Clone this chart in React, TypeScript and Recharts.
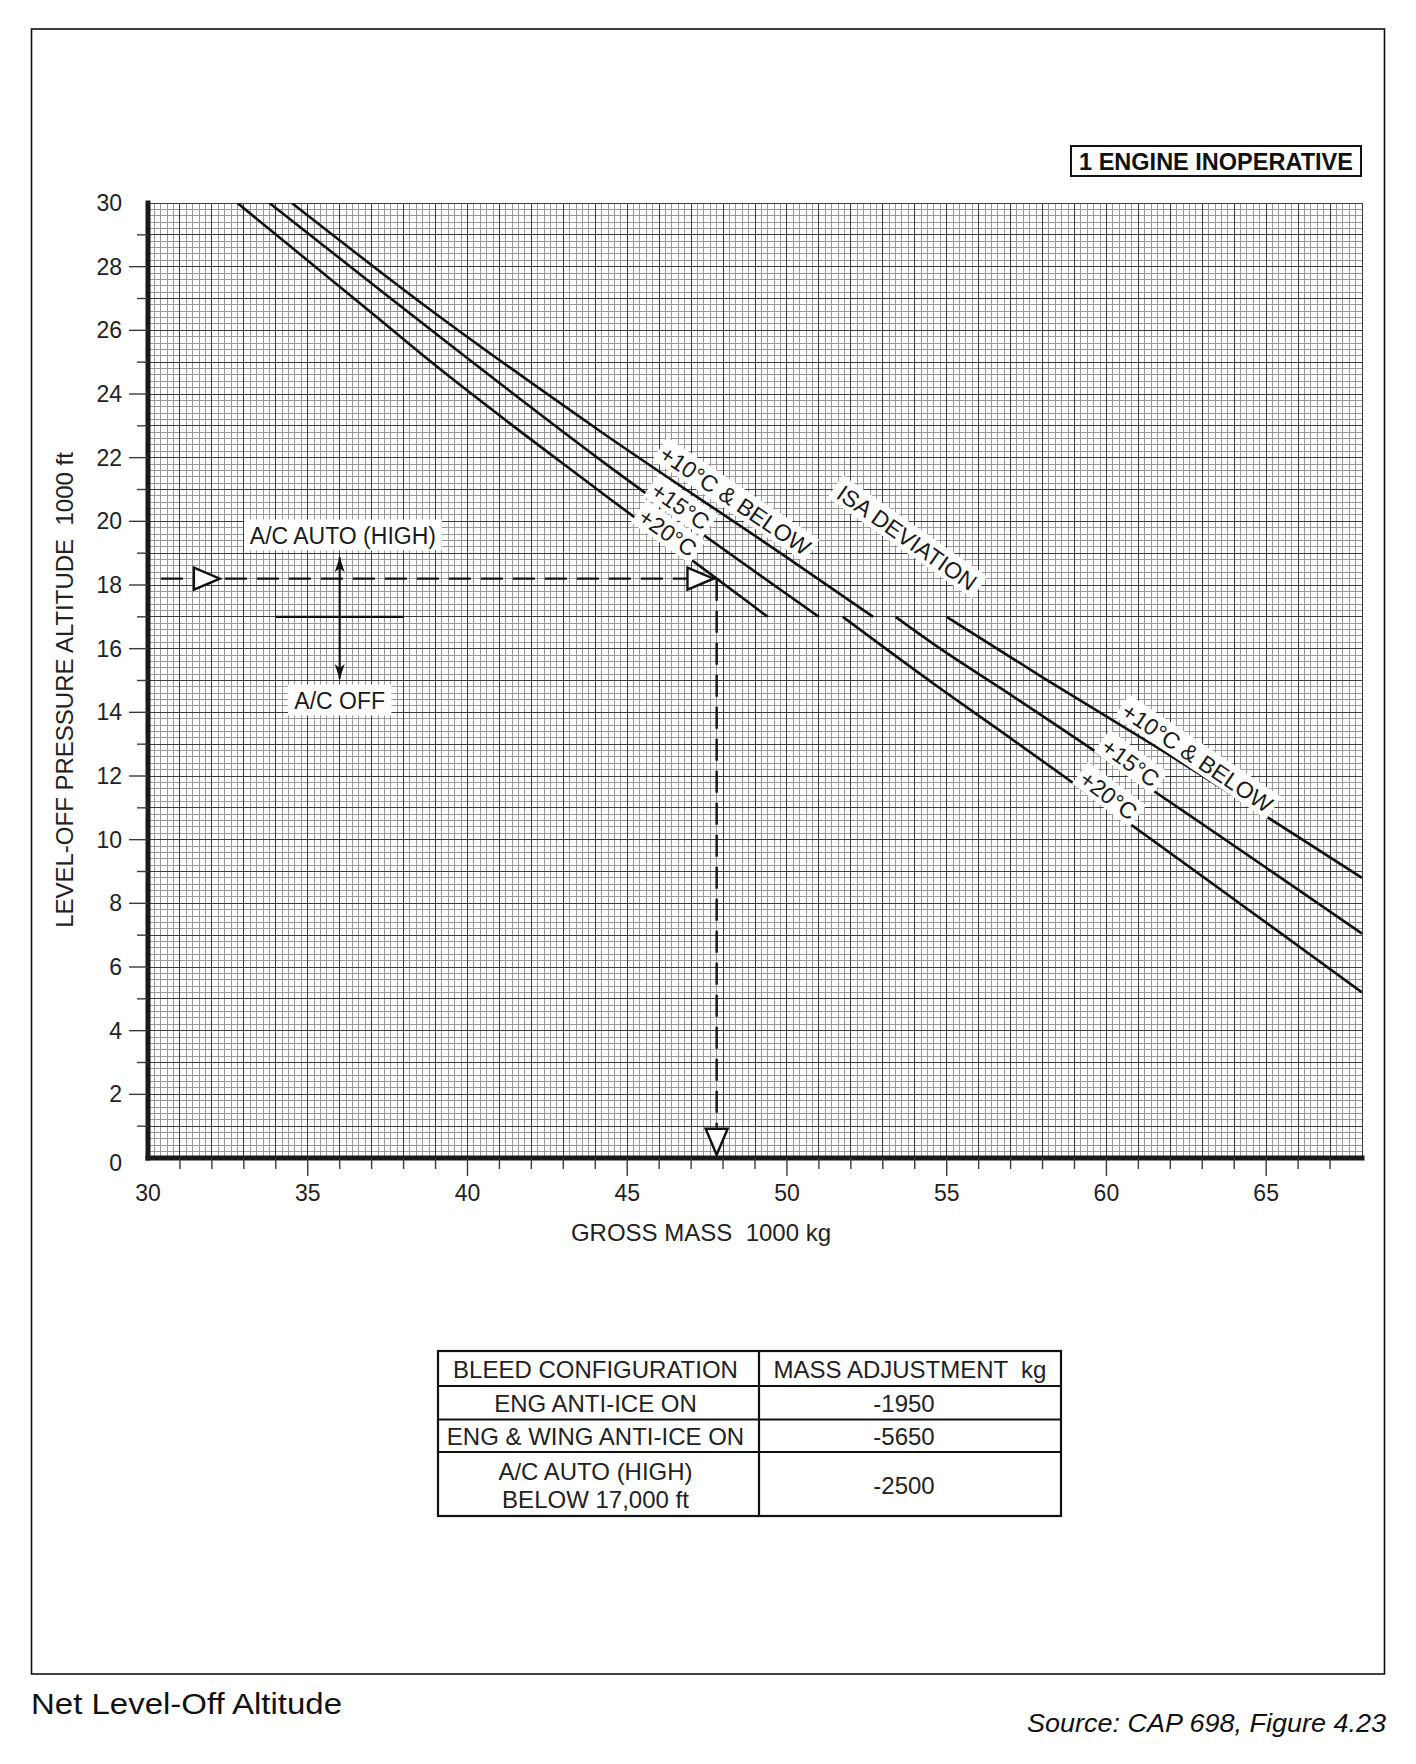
import React from 'react';
import { LineChart, Line, XAxis, YAxis, ReferenceLine, ReferenceDot } from 'recharts';

const FONT = '"Liberation Sans", Arial, Helvetica, sans-serif';

// ---- data (gross mass in 1000 kg, level-off pressure altitude in 1000 ft) ----
const upper20 = [
  { x: 32.8, y: 30 }, { x: 37.3, y: 26.3 }, { x: 38.5, y: 25.3 }, { x: 44.2, y: 20.9 }, { x: 47.8, y: 18.2 }, { x: 49.4, y: 17 },
];
const upper15 = [
  { x: 33.8, y: 30 }, { x: 37.6, y: 27.0 }, { x: 44.2, y: 21.9 }, { x: 49.8, y: 17.85 }, { x: 51.0, y: 17 },
];
const upper10 = [
  { x: 34.5, y: 30 }, { x: 38.5, y: 26.9 }, { x: 44.2, y: 22.8 }, { x: 49.8, y: 19.0 }, { x: 52.7, y: 17 },
];
const lower20 = [
  { x: 51.75, y: 17 }, { x: 54.8, y: 14.75 }, { x: 56.7, y: 13.4 }, { x: 68, y: 5.2 },
];
const lower15 = [
  { x: 53.4, y: 17 }, { x: 54.8, y: 16.0 }, { x: 56.7, y: 14.75 }, { x: 68, y: 7.05 },
];
const lower10 = [
  { x: 55.0, y: 17 }, { x: 58.0, y: 15.1 }, { x: 61.5, y: 12.95 }, { x: 68, y: 8.8 },
];

// example path
const exampleAltitude = 18.2;
const exampleMass = 47.8;
const dashHorizontal = [{ x: 30.4, y: exampleAltitude }, { x: 47.75, y: exampleAltitude }];
const dashVertical = [{ x: exampleMass, y: exampleAltitude }, { x: exampleMass, y: 0.95 }];

// A/C symbol
const acBar = [{ x: 34, y: 17 }, { x: 38, y: 17 }];
const acArrow = [{ x: 36, y: 15.05 }, { x: 36, y: 18.87 }];

// axes
const X_DOMAIN: [number, number] = [30, 68];
const Y_DOMAIN: [number, number] = [0, 30];
const xTickLabels = [30, 35, 40, 45, 50, 55, 60, 65];
const yTickLabels = [0, 2, 4, 6, 8, 10, 12, 14, 16, 18, 20, 22, 24, 26, 28, 30];
const xTicks = Array.from({ length: 38 }, (_, i) => 30 + i);
const yTicks = Array.from({ length: 31 }, (_, i) => i);
const GRID_STEP = 0.2;
const gridX = Array.from({ length: Math.round((X_DOMAIN[1] - X_DOMAIN[0]) / GRID_STEP) + 1 }, (_, i) => Math.round((X_DOMAIN[0] + i * GRID_STEP) * 10) / 10);
const gridY = Array.from({ length: Math.round((Y_DOMAIN[1] - Y_DOMAIN[0]) / GRID_STEP) + 1 }, (_, i) => Math.round((Y_DOMAIN[0] + i * GRID_STEP) * 10) / 10);

// labels on curves
const curveLabels = [
  { text: '+10°C & BELOW', x: 48.4, y: 20.68, angle: 34 },
  { text: '+15°C', x: 46.68, y: 20.5, angle: 35 },
  { text: '+20°C', x: 46.28, y: 19.67, angle: 35 },
  { text: 'ISA DEVIATION', x: 53.77, y: 19.51, angle: 35 },
  { text: '+10°C & BELOW', x: 62.86, y: 12.6, angle: 34 },
  { text: '+15°C', x: 60.77, y: 12.44, angle: 36 },
  { text: '+20°C', x: 60.08, y: 11.42, angle: 37 },
];
const acLabels = [
  { text: 'A/C AUTO (HIGH)', x: 36.1, y: 19.57 },
  { text: 'A/C OFF', x: 36.0, y: 14.39 },
];

// table
const tableHeader = ['BLEED CONFIGURATION', 'MASS ADJUSTMENT  kg'];
const tableRows = [
  { config: ['ENG ANTI-ICE ON'], adj: '-1950' },
  { config: ['ENG & WING ANTI-ICE ON'], adj: '-5650' },
  { config: ['A/C AUTO (HIGH)', 'BELOW 17,000 ft'], adj: '-2500' },
];

// ---- layout ----
const PAGE_W = 1416;
const PAGE_H = 1764;
const PLOT_LEFT = 148;
const PLOT_TOP = 203;
const PLOT_RIGHT = 1362;
const PLOT_BOTTOM = 1158;
const CHART_W = 1416;
const CHART_H = 1300;
const Y_AXIS_W = 60;
const X_AXIS_H = 60;

const CW: Record<string, number> = { ' ': 0.278, '+': 0.584, '°': 0.4, '&': 0.667, '/': 0.278, '(': 0.333, ')': 0.333, '-': 0.333, I: 0.278, M: 0.833, W: 0.944, L: 0.556, F: 0.611, T: 0.611 };
function textWidth(s: string, fs: number) {
  let w = 0;
  for (const c of s) {
    if (CW[c] != null) w += CW[c];
    else if (/[0-9]/.test(c)) w += 0.556;
    else w += 0.7;
  }
  return w * fs;
}

const YTick = (props: any) => {
  const { x, y, payload } = props;
  const v = payload.value as number;
  const major = yTickLabels.includes(v);
  const showLine = v !== 0 && v !== 30;
  return (
    <g>
      {showLine && <line x1={x - (major ? 19 : 11)} x2={x} y1={y} y2={y} stroke="#3a3a3a" strokeWidth={1.4} />}
      {major && (
        <text x={x - 26} y={y + (v === 0 ? 5 : 0)} textAnchor="end" dominantBaseline="central" fontSize={23} fontFamily={FONT} fill="#222">
          {v}
        </text>
      )}
    </g>
  );
};

const XTick = (props: any) => {
  const { x, y, payload } = props;
  const v = payload.value as number;
  const major = xTickLabels.includes(v);
  const showLine = v !== 30;
  return (
    <g>
      {showLine && <line x1={x} x2={x} y1={y} y2={y + (major ? 18 : 11)} stroke="#3a3a3a" strokeWidth={1.4} />}
      {major && (
        <text x={x} y={y + 35} textAnchor="middle" dominantBaseline="central" fontSize={23} fontFamily={FONT} fill="#222">
          {v}
        </text>
      )}
    </g>
  );
};

const rotLabel = (text: string, angle: number, fs = 23) => (p: any) => {
  const w = textWidth(text, fs) + 8;
  const h = fs + 4;
  return (
    <g transform={`translate(${p.cx},${p.cy}) rotate(${angle})`}>
      <rect x={-w / 2} y={-h / 2} width={w} height={h} fill="#fff" />
      <text x={0} y={1} textAnchor="middle" dominantBaseline="central" fontSize={fs} fontFamily={FONT} fill="#1a1a1a">
        {text}
      </text>
    </g>
  );
};

const flatLabel = (text: string, fs = 23) => (p: any) => {
  const w = textWidth(text, fs) + 14;
  const h = fs + 8;
  return (
    <g>
      <rect x={p.cx - w / 2} y={p.cy - h / 2} width={w} height={h} fill="#fff" />
      <text x={p.cx} y={p.cy + 1} textAnchor="middle" dominantBaseline="central" fontSize={fs} fontFamily={FONT} fill="#1a1a1a">
        {text}
      </text>
    </g>
  );
};

const openArrowRight = (p: any) => (
  <polygon points={`${p.cx - 26},${p.cy - 11} ${p.cx},${p.cy} ${p.cx - 26},${p.cy + 11}`} fill="#fff" stroke="#111" strokeWidth={2.4} strokeLinejoin="miter" />
);
const openArrowDown = (p: any) => (
  <polygon points={`${p.cx - 11},${p.cy - 26} ${p.cx + 11},${p.cy - 26} ${p.cx},${p.cy}`} fill="#fff" stroke="#111" strokeWidth={2.4} strokeLinejoin="miter" />
);
const solidArrowUp = (p: any) => (
  <polygon points={`${p.cx},${p.cy} ${p.cx + 5},${p.cy + 15} ${p.cx},${p.cy + 11} ${p.cx - 5},${p.cy + 15}`} fill="#111" />
);
const solidArrowDown = (p: any) => (
  <polygon points={`${p.cx},${p.cy} ${p.cx + 5},${p.cy - 15} ${p.cx},${p.cy - 11} ${p.cx - 5},${p.cy - 15}`} fill="#111" />
);

const curveProps = { dataKey: 'y', type: 'monotone' as const, stroke: '#111', strokeWidth: 2.6, dot: false, activeDot: false, isAnimationActive: false };

function Background() {
  const tl = 438, tr = 1061, tc = 759;
  const rowsY = [1351, 1386, 1419.5, 1452, 1516];
  const col1 = (tl + tc) / 2;
  const col2 = (tc + tr) / 2;
  const tfs = 24;
  return (
    <svg width={PAGE_W} height={PAGE_H} style={{ position: 'absolute', left: 0, top: 0 }}>
      <rect x={0} y={0} width={PAGE_W} height={PAGE_H} fill="#fff" />
      <rect x={31.5} y={29} width={1353} height={1645} fill="none" stroke="#111" strokeWidth={1.6} />
      {/* engine box */}
      <rect x={1071} y={146} width={290} height={30} fill="#fff" stroke="#111" strokeWidth={2} />
      <text x={1216} y={161.5} textAnchor="middle" dominantBaseline="central" fontSize={23.5} fontWeight="bold" fontFamily={FONT} fill="#111">
        1 ENGINE INOPERATIVE
      </text>
      {/* axis titles */}
      <text x={64} y={690} transform="rotate(-90 64 690)" textAnchor="middle" dominantBaseline="central" fontSize={24} fontFamily={FONT} fill="#222" style={{ whiteSpace: 'pre' }}>
        {'LEVEL-OFF PRESSURE ALTITUDE  1000 ft'}
      </text>
      <text x={701} y={1232} textAnchor="middle" dominantBaseline="central" fontSize={24} fontFamily={FONT} fill="#222" style={{ whiteSpace: 'pre' }}>
        {'GROSS MASS  1000 kg'}
      </text>
      {/* table */}
      <rect x={tl} y={rowsY[0]} width={tr - tl} height={rowsY[4] - rowsY[0]} fill="#fff" stroke="#111" strokeWidth={2.2} />
      <line x1={tc} x2={tc} y1={rowsY[0]} y2={rowsY[4]} stroke="#111" strokeWidth={2.2} />
      {rowsY.slice(1, 4).map((ry) => (
        <line key={ry} x1={tl} x2={tr} y1={ry} y2={ry} stroke="#111" strokeWidth={2.2} />
      ))}
      <text x={col1 - 3} y={(rowsY[0] + rowsY[1]) / 2 + 1} textAnchor="middle" dominantBaseline="central" fontSize={tfs} fontFamily={FONT} fill="#222">
        {tableHeader[0]}
      </text>
      <text x={col2} y={(rowsY[0] + rowsY[1]) / 2 + 1} textAnchor="middle" dominantBaseline="central" fontSize={tfs} fontFamily={FONT} fill="#222" style={{ whiteSpace: 'pre' }}>
        {tableHeader[1]}
      </text>
      {tableRows.map((r, i) => {
        const top = rowsY[i + 1];
        const bot = rowsY[i + 2];
        const mid = (top + bot) / 2 + 1;
        const n = r.config.length;
        return (
          <g key={i}>
            {r.config.map((c, j) => (
              <text key={j} x={col1 - 3} y={mid + (j - (n - 1) / 2) * 28} textAnchor="middle" dominantBaseline="central" fontSize={tfs} fontFamily={FONT} fill="#222">
                {c}
              </text>
            ))}
            <text x={col2 - 6} y={mid} textAnchor="middle" dominantBaseline="central" fontSize={tfs} fontFamily={FONT} fill="#222">
              {r.adj}
            </text>
          </g>
        );
      })}
      {/* caption */}
      <text x={31} y={1714} fontSize={29} fontFamily={FONT} fill="#111" textLength={311} lengthAdjust="spacingAndGlyphs">
        Net Level-Off Altitude
      </text>
      <text x={1027} y={1732} fontSize={25} fontStyle="italic" fontFamily={FONT} fill="#111" textLength={359} lengthAdjust="spacingAndGlyphs">
        Source: CAP 698, Figure 4.23
      </text>
    </svg>
  );
}

export default function App() {
  return (
    <div style={{ position: 'absolute', left: 0, top: 0, width: PAGE_W, height: PAGE_H, background: '#fff', fontFamily: FONT }}>
      <Background />
      <div style={{ position: 'absolute', left: 0, top: 0 }}>
        <LineChart
          width={CHART_W}
          height={CHART_H}
          margin={{ top: PLOT_TOP, right: CHART_W - PLOT_RIGHT, left: PLOT_LEFT - Y_AXIS_W, bottom: CHART_H - PLOT_BOTTOM - X_AXIS_H }}
        >
          {gridX.filter((v) => !Number.isInteger(v)).map((v) => (
            <ReferenceLine key={`gx${v}`} x={v} stroke="#999999" strokeWidth={1} shapeRendering="crispEdges" ifOverflow="visible" />
          ))}
          {gridY.filter((v) => !Number.isInteger(v)).map((v) => (
            <ReferenceLine key={`gy${v}`} y={v} stroke="#999999" strokeWidth={1} shapeRendering="crispEdges" ifOverflow="visible" />
          ))}
          {gridX.filter((v) => Number.isInteger(v)).map((v) => (
            <ReferenceLine key={`GX${v}`} x={v} stroke="#3c3c3c" strokeWidth={1} shapeRendering="crispEdges" ifOverflow="visible" />
          ))}
          {gridY.filter((v) => Number.isInteger(v)).map((v) => (
            <ReferenceLine key={`GY${v}`} y={v} stroke="#3c3c3c" strokeWidth={1} shapeRendering="crispEdges" ifOverflow="visible" />
          ))}
          <XAxis
            dataKey="x"
            type="number"
            domain={X_DOMAIN}
            allowDataOverflow
            ticks={xTicks}
            interval={0}
            tickSize={0}
            tickMargin={0}
            tickLine={false}
            tick={<XTick />}
            height={X_AXIS_H}
            axisLine={{ stroke: '#1a1a1a', strokeWidth: 5, strokeLinecap: 'square' }}
          />
          <YAxis
            type="number"
            domain={Y_DOMAIN}
            allowDataOverflow
            ticks={yTicks}
            interval={0}
            tickSize={0}
            tickMargin={0}
            tickLine={false}
            tick={<YTick />}
            width={Y_AXIS_W}
            axisLine={{ stroke: '#1a1a1a', strokeWidth: 5, strokeLinecap: 'square' }}
          />
          {curveLabels.map((l, i) => (
            <ReferenceDot key={`cl${i}`} x={l.x} y={l.y} shape={rotLabel(l.text, l.angle)} />
          ))}
          {acLabels.map((l, i) => (
            <ReferenceDot key={`al${i}`} x={l.x} y={l.y} shape={flatLabel(l.text)} />
          ))}
          <Line data={upper20} {...curveProps} />
          <Line data={upper15} {...curveProps} />
          <Line data={upper10} {...curveProps} />
          <Line data={lower20} {...curveProps} />
          <Line data={lower15} {...curveProps} />
          <Line data={lower10} {...curveProps} />
          <Line data={dashHorizontal} dataKey="y" type="linear" stroke="#111" strokeWidth={2.4} strokeDasharray="22 10" dot={false} activeDot={false} isAnimationActive={false} />
          <Line data={dashVertical} dataKey="y" type="linear" stroke="#111" strokeWidth={2.4} strokeDasharray="22 10" dot={false} activeDot={false} isAnimationActive={false} />
          <Line data={acBar} dataKey="y" type="linear" stroke="#111" strokeWidth={2.4} dot={false} activeDot={false} isAnimationActive={false} />
          <Line data={acArrow} dataKey="y" type="linear" stroke="#111" strokeWidth={2.2} dot={false} activeDot={false} isAnimationActive={false} />
          <ReferenceDot x={32.25} y={exampleAltitude} shape={openArrowRight} />
          <ReferenceDot x={47.7} y={exampleAltitude} shape={openArrowRight} />
          <ReferenceDot x={exampleMass} y={0.1} shape={openArrowDown} />
          <ReferenceDot x={36} y={18.87} shape={solidArrowUp} />
          <ReferenceDot x={36} y={15.05} shape={solidArrowDown} />
        </LineChart>
      </div>
    </div>
  );
}
